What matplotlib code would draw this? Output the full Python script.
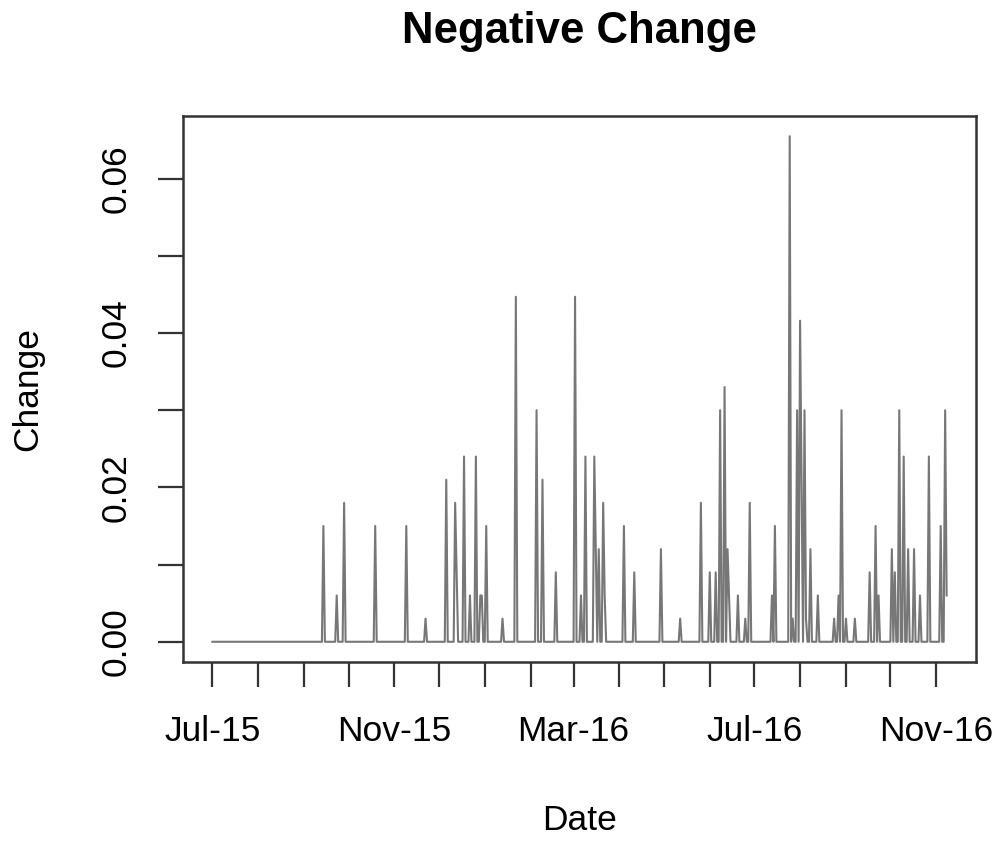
import numpy as np
import pandas as pd
import matplotlib
matplotlib.use("Agg")
import matplotlib.pyplot as plt
import matplotlib.dates as mdates
from matplotlib.ticker import FuncFormatter, MultipleLocator

plt.rcParams['font.family'] = ['Liberation Sans', 'DejaVu Sans']

# daily series, zero except on these days
start_date = "2015-07-01"
end_date = "2016-11-08"
spike_dates = [
    "2015-09-14", "2015-09-23", "2015-09-28", "2015-10-19", "2015-11-09",
    "2015-11-22", "2015-12-06", "2015-12-12", "2015-12-13", "2015-12-18",
    "2015-12-22", "2015-12-26", "2015-12-29", "2015-12-30", "2016-01-02",
    "2016-01-13", "2016-01-22", "2016-02-05", "2016-02-09", "2016-02-18",
    "2016-03-02", "2016-03-06", "2016-03-09", "2016-03-15", "2016-03-16",
    "2016-03-18", "2016-03-21", "2016-03-22", "2016-04-04", "2016-04-11",
    "2016-04-29", "2016-05-12", "2016-05-26", "2016-06-01", "2016-06-05",
    "2016-06-08", "2016-06-11", "2016-06-13", "2016-06-14", "2016-06-20",
    "2016-06-25", "2016-06-28", "2016-07-13", "2016-07-15", "2016-07-25",
    "2016-07-27", "2016-07-30", "2016-08-01", "2016-08-02", "2016-08-04",
    "2016-08-05", "2016-08-08", "2016-08-13", "2016-08-24", "2016-08-27",
    "2016-08-29", "2016-09-01", "2016-09-07", "2016-09-17", "2016-09-21",
    "2016-09-23", "2016-10-02", "2016-10-04", "2016-10-07", "2016-10-10",
    "2016-10-13", "2016-10-17", "2016-10-21", "2016-10-27", "2016-11-04",
    "2016-11-07", "2016-11-08",
]
spike_values = [
    0.015, 0.006, 0.018, 0.015, 0.015,
    0.003, 0.021, 0.018, 0.009, 0.024,
    0.006, 0.024, 0.006, 0.006, 0.015,
    0.003, 0.0447, 0.030, 0.021, 0.009,
    0.0447, 0.006, 0.024, 0.024, 0.012,
    0.012, 0.018, 0.006, 0.015, 0.009,
    0.012, 0.003, 0.018, 0.009, 0.009,
    0.030, 0.033, 0.012, 0.006, 0.006,
    0.003, 0.018, 0.006, 0.015, 0.0655,
    0.003, 0.030, 0.0416, 0.021, 0.030,
    0.003, 0.012, 0.006, 0.003, 0.006,
    0.030, 0.003, 0.003, 0.009, 0.015,
    0.006, 0.012, 0.009, 0.030, 0.024,
    0.012, 0.012, 0.006, 0.024, 0.015,
    0.030, 0.006,
]
labelled_months = [3, 7, 11]
y_ticks = [0.00, 0.01, 0.02, 0.03, 0.04, 0.05, 0.06]
y_labelled = [0.00, 0.02, 0.04, 0.06]

idx = pd.date_range(start_date, end_date, freq="D")
change = pd.Series(0.0, index=idx)
change.loc[pd.to_datetime(spike_dates)] = spike_values

fig = plt.figure(figsize=(9.99, 8.41), dpi=100)
ax = fig.add_axes([183 / 999, 1 - 662 / 841, 793 / 999, 546 / 841])

ax.plot(change.index, change.values, color="#777777", lw=1.5)

# R style 4% padding
span = idx[-1] - idx[0]
ax.set_xlim(idx[0] - span * 0.04, idx[-1] + span * 0.04)
ymax = change.max()
ax.set_ylim(-0.04 * ymax, 1.04 * ymax)

ax.xaxis.set_major_locator(mdates.MonthLocator())
ax.xaxis.set_major_formatter(FuncFormatter(
    lambda v, pos: mdates.num2date(v).strftime("%b-%y")
    if mdates.num2date(v).month in labelled_months else ""))
ax.set_yticks(y_ticks)
ax.yaxis.set_major_formatter(FuncFormatter(
    lambda v, pos: f"{v:.2f}" if any(abs(v - t) < 1e-9 for t in y_labelled) else ""))

ax.tick_params(axis="both", direction="out", length=18, width=1.6,
               color="#333333", labelsize=25.5)
ax.tick_params(axis="x", pad=20)
ax.tick_params(axis="y", pad=18)
for lab in ax.get_yticklabels():
    lab.set_rotation(90)
    lab.set_va("center")
for sp in ax.spines.values():
    sp.set_linewidth(1.8)
    sp.set_color("#333333")

ax.set_xlabel("Date", fontsize=25.5)
ax.xaxis.label.set_va("center")
ax.xaxis.set_label_coords(0.5, (662 - 820) / 546)
ax.set_ylabel("Change", fontsize=25.5)
ax.yaxis.label.set_va("center")
ax.yaxis.set_label_coords((28 - 183) / 793, 0.5)

fig.text(579.5 / 999, 1 - 32 / 841, "Negative Change", fontsize=31.5,
         fontweight="bold", ha="center", va="center")

fig.savefig("out.png", dpi=100)
